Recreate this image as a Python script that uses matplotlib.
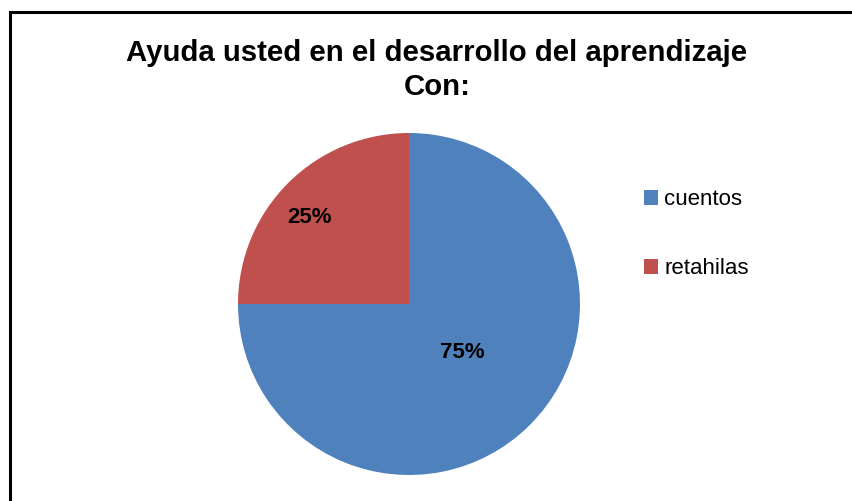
import numpy as np
import matplotlib
matplotlib.use("Agg")
import matplotlib.pyplot as plt
from matplotlib.patches import Rectangle

categories = ["cuentos", "retahilas"]
values = [75, 25]
colors = ["#4F81BD", "#C0504D"]
label_dist = [0.42, 0.77]
label_shift = [3, 4]  # grados extra sobre el punto medio de cada porción

fig = plt.figure(figsize=(8.52, 5.01), dpi=100)
fig.patches.append(Rectangle((10 / 852, -0.01), 1.0, (501 - 12) / 501 + 0.01,
                             transform=fig.transFigure, fill=False,
                             edgecolor="black", linewidth=2.2))

title_font = dict(ha="center", va="center", fontsize=21.2, fontweight="bold",
                  family=["Liberation Sans", "DejaVu Sans"])
fig.text(437 / 852, 1 - 53 / 501, "Ayuda usted en el desarrollo del aprendizaje", **title_font)
fig.text(437 / 852, 1 - 87 / 501, "Con:", **title_font)

ax = fig.add_axes([238 / 852, 26 / 501, 342 / 852, 342 / 501])
wedges, _, autotexts = ax.pie(values, colors=colors, startangle=90, counterclock=False,
                              autopct="%d%%", pctdistance=0.6,
                              textprops=dict(fontsize=16, fontweight="bold",
                                             family=["Liberation Sans", "DejaVu Sans"]))
ang = 90.0
for v, t, d, s in zip(values, autotexts, label_dist, label_shift):
    mid = np.deg2rad(ang - v / 100 * 360 / 2 + s)
    t.set_position((d * np.cos(mid), d * np.sin(mid)))
    ang -= v / 100 * 360
ax.set_xlim(-1, 1)
ax.set_ylim(-1, 1)
ax.set_aspect("equal")

fig.legend(wedges, categories, loc="center left", bbox_to_anchor=(624 / 852, 1 - 234 / 501),
           frameon=False, handlelength=0.65, handleheight=0.65,
           handletextpad=0.25, labelspacing=2.15,
           prop=dict(family=["Liberation Sans", "DejaVu Sans"], size=16))

fig.savefig("out.png", dpi=100)
